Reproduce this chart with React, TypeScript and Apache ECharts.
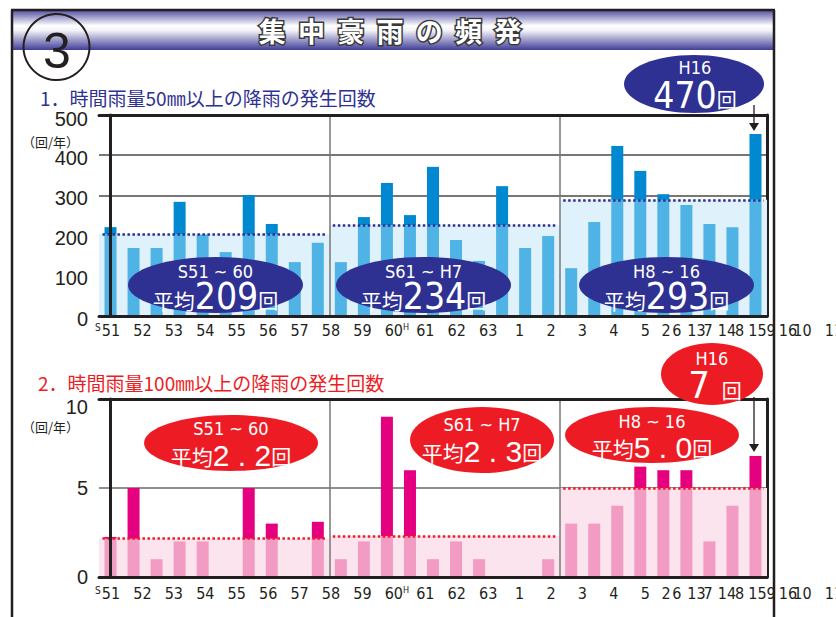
import React, { useEffect, useRef } from 'react';
import * as echarts from 'echarts';

// ---------- data ----------
const barCategories = ['S51', 'S52', 'S53', 'S54', 'S55', 'S56', 'S57', 'S58', 'S59', 'S60',
  'S61', 'S62', 'S63', 'H1', 'H2', 'H3', 'H4', 'H5', 'H6', 'H7',
  'H8', 'H9', 'H10', 'H11', 'H12', 'H13', 'H14', 'H15', 'H16'];
const rain50 = [221, 169, 169, 284, 203, 159, 301, 229, 134, 182,
  134, 246, 331, 251, 371, 189, 137, 323, 169, 199,
  119, 234, 423, 361, 303, 276, 229, 221, 453];
const rain100 = [2.25, 5, 1, 2, 2, 0, 5, 3, 0, 3.1,
  1, 2, 9, 6, 1, 2, 1, 0, 0, 1,
  3, 3, 4, 6.2, 6, 6, 2, 4, 6.8];
const sectionSizes = [10, 10, 9];
const avgLine50 = [204, 226, 289];
const avgLine100 = [2.15, 2.3, 5.0];
const periodLabels = ['S51 ~ 60', 'S61 ~ H7', 'H8 ~ 16'];
const avgText50 = ['209', '234', '293'];
const avgText100 = ['2.2', '2.3', '5.0'];
const peakLabel = 'H16';
const peak50 = '470';
const peak100 = '7';
const tickRowA = ['51', '52', '53', '54', '55', '56', '57', '58', '59', '60', '61', '62', '63',
  '1', '2', '3', '4', '5', '6', '7', '8', '9', '10', '11'];
const tickRowB = ['2', '13', '14', '15', '16'];
const title = '集  中  豪  雨  の  頻  発';
const subtitle1 = '1．時間雨量50㎜以上の降雨の発生回数';
const subtitle2 = '2．時間雨量100㎜以上の降雨の発生回数';
const unitLabel = '（回/年）';

// ---------- styles ----------
const NARROW = '"Liberation Sans Narrow", "DejaVu Sans Condensed", "Liberation Sans", sans-serif';
const SANS = '"Liberation Sans", Arial, sans-serif';
const CJK = '"Noto Sans CJK JP", "Noto Sans", sans-serif';
const INK = '#231f20';
const NAVY = '#2e3192';
const RED = '#ed1c24';

const bounds: number[][] = [];
{
  let acc = -0.5;
  sectionSizes.forEach((n) => { bounds.push([acc, acc + n]); acc += n; });
}
const sectionOf = (i: number) => {
  let acc = 0;
  for (let s = 0; s < sectionSizes.length; s++) { acc += sectionSizes[s]; if (i < acc) return s; }
  return sectionSizes.length - 1;
};

function panel(p: any) {
  const g = p.gridBase;
  const xa = p.xBase;
  const ya = p.yBase;
  const light = p.values.map((v: number, i: number) => Math.min(v, p.avg[sectionOf(i)]));
  const dark = p.values.map((v: number, i: number) => Math.max(0, +(v - p.avg[sectionOf(i)]).toFixed(3)));
  const xAxes = [
    {
      gridIndex: g, type: 'category', data: barCategories, position: 'bottom', boundaryGap: true, z: 10,
      axisLine: { show: true, lineStyle: { color: INK, width: 3 } },
      axisTick: { show: false }, axisLabel: { show: false }, splitLine: { show: false },
    },
    {
      gridIndex: g, type: 'value', position: 'top', min: -0.5, max: barCategories.length - 0.5, z: 10,
      axisLine: { show: true, onZero: false, lineStyle: { color: INK, width: 3 } },
      axisTick: { show: false }, axisLabel: { show: false }, splitLine: { show: false },
    },
  ];
  const yAxes = [
    {
      gridIndex: g, type: 'value', position: 'left', min: 0, max: p.max, interval: p.interval, z: 10,
      axisLine: { show: true, lineStyle: { color: INK, width: 3 } },
      axisTick: { show: false }, splitLine: { show: false },
      axisLabel: {
        fontSize: 20, fontFamily: SANS, color: INK, margin: 11,
        formatter: (v: number) => (v === p.max ? '{t|' + v + '}' : '{n|' + v + '}'),
        rich: {
          n: { fontSize: 20, fontFamily: SANS, color: INK, padding: p.labelPad },
          t: { fontSize: 20, fontFamily: SANS, color: INK, padding: p.topPad },
        },
      },
    },
    {
      gridIndex: g, type: 'value', position: 'right', min: 0, max: p.max, interval: p.interval, z: 0,
      axisLine: { show: true, lineStyle: { color: INK, width: 3 } },
      axisTick: { show: false }, axisLabel: { show: false },
      splitLine: { show: true, lineStyle: { color: p.gridColor, width: 1.5 } },
    },
  ];
  const series = [
    {
      type: 'line', xAxisIndex: xa + 1, yAxisIndex: ya, data: [], z: 1, silent: true,
      markArea: {
        silent: true,
        data: bounds.map((b, s) => [
          { xAxis: b[0], yAxis: 0, itemStyle: { color: p.areaColor } },
          { xAxis: b[1], yAxis: p.avg[s] },
        ]),
      },
    },
    {
      type: 'bar', xAxisIndex: xa, yAxisIndex: ya, stack: 'v' + g, data: light, barWidth: 12, z: 2,
      itemStyle: { color: p.lightColor },
    },
    {
      type: 'bar', xAxisIndex: xa, yAxisIndex: ya, stack: 'v' + g, data: dark, barWidth: 12, z: 2,
      itemStyle: { color: p.darkColor },
    },
    {
      type: 'line', xAxisIndex: xa + 1, yAxisIndex: ya, data: [], z: 5, silent: true,
      markLine: {
        silent: true, symbol: ['none', 'none'], label: { show: false },
        data: [
          ...bounds.slice(1).map((b) => ({ xAxis: b[0], lineStyle: { color: '#777', width: 1.5, type: 'solid' } })),
          ...bounds.map((b, s) => [
            { coord: [b[0] + 0.15, p.avg[s]], lineStyle: { color: p.lineColor, width: 2.5, type: [2.5, 2.5] } },
            { coord: [b[1] - 0.15, p.avg[s]] },
          ]),
        ],
      },
    },
  ];
  return { xAxes, yAxes, series };
}

const tickRich = {
  n: { fontSize: 16, fontFamily: NARROW, color: INK },
  s: { fontSize: 10, fontFamily: NARROW, color: INK, verticalAlign: 'top', width: 8 },
  e: { fontSize: 10, width: 8 },
  h: { fontSize: 9, fontFamily: NARROW, color: INK, verticalAlign: 'top', width: 6 },
  f: { fontSize: 9, width: 6 },
};
const tickFormatter = (v: string, idx: number) => {
  if (idx === 0) return '{s|S}{n|' + v + '}{e| }';
  if (v === '60') return '{f| }{n|' + v + '}{h|H}';
  return '{n|' + v + '}';
};
const tickFormatterB = (v: string) => '{n|' + v + '}';

function tickAxis(gridIndex: number, data: string[], margin: number, fmt: any) {
  return {
    gridIndex, type: 'category', data, position: 'bottom', boundaryGap: true,
    axisLine: { show: false }, axisTick: { show: false }, splitLine: { show: false },
    axisLabel: { interval: 0, hideOverlap: false, margin, formatter: fmt, rich: tickRich },
  };
}

function bubble(cx: number, cy: number, rx: number, ry: number, fill: string) {
  return { type: 'ellipse', z: 50, shape: { cx, cy, rx, ry }, style: { fill } };
}
function txt(x: number, y: number, text: string, font: any, rich?: any) {
  return {
    type: 'text', z: 51, x, y,
    style: { text, align: 'center', verticalAlign: 'middle', fill: '#fff', ...font, rich },
  };
}
const avgRich = (big: number, bigFont: string, gap = 0) => ({
  a: { fontSize: 21, fontFamily: CJK, fill: '#fff', verticalAlign: 'bottom', padding: [0, 0, 4, 0] },
  b: { fontSize: big, fontFamily: bigFont, fill: '#fff', verticalAlign: 'bottom' },
  c: { fontSize: 20, fontFamily: CJK, fill: '#fff', verticalAlign: 'bottom', padding: [0, 0, 4, gap] },
});
const spaced = (s: string) => s.split('').join(' ');

function arrow(x: number, y1: number, y2: number) {
  return [
    { type: 'line', z: 52, shape: { x1: x, y1, x2: x, y2: y2 - 6 }, style: { stroke: INK, lineWidth: 1.3 } },
    { type: 'polygon', z: 52, shape: { points: [[x - 5, y2 - 8], [x + 5, y2 - 8], [x, y2]] }, style: { fill: INK } },
  ];
}

export default function App() {
  const ref = useRef<HTMLDivElement>(null);
  useEffect(() => {
    if (!ref.current) return;
    const chart = echarts.init(ref.current, undefined, { renderer: 'svg' });
    const top = panel({
      gridBase: 0, xBase: 0, yBase: 0, values: rain50, avg: avgLine50, max: 500, interval: 100,
      lightColor: '#4fb3e6', darkColor: '#0089d1', areaColor: '#dff1fb', lineColor: NAVY,
      gridColor: '#4a4a4a', labelPad: [5, 0, 0, 0], topPad: [8, 0, 0, 0],
    });
    const bot = panel({
      gridBase: 1, xBase: 2, yBase: 2, values: rain100, avg: avgLine100, max: 10, interval: 5,
      lightColor: '#f29bc3', darkColor: '#e4007f', areaColor: '#fce4ef', lineColor: RED,
      gridColor: '#6a6a6a', labelPad: [0, 0, 0, 0], topPad: [16, 0, 0, 0],
    });
    const rowAw = 31.43;
    const rowBw = 30.5;
    const gb = { outerBoundsMode: 'none', containLabel: false };
    const grids = [
      { ...gb, left: 99, top: 115, width: 668, height: 201 },
      { ...gb, left: 99, top: 399, width: 668, height: 178 },
      { ...gb, left: 111 - rowAw / 2, top: 316, width: rowAw * tickRowA.length, height: 1 },
      { ...gb, left: 666 - rowBw / 2, top: 316, width: rowBw * tickRowB.length, height: 1 },
      { ...gb, left: 111 - rowAw / 2, top: 577, width: rowAw * tickRowA.length, height: 1 },
      { ...gb, left: 666 - rowBw / 2, top: 577, width: rowBw * tickRowB.length, height: 1 },
    ];
    const hiddenY = (gi: number) => ({ gridIndex: gi, type: 'value', show: false });

    const gradient = new echarts.graphic.LinearGradient(0, 0, 0, 1, [
      { offset: 0, color: '#5d5aa8' },
      { offset: 0.38, color: '#ffffff' },
      { offset: 0.5, color: '#f2f2f8' },
      { offset: 1, color: '#403e97' },
    ]);

    const elements: any[] = [
      { type: 'rect', z: 40, shape: { x: 12, y: 11, width: 762, height: 39 }, style: { fill: gradient } },
      { type: 'line', z: 41, shape: { x1: 11, y1: 10, x2: 775, y2: 10 }, style: { stroke: INK, lineWidth: 2.5 } },
      { type: 'line', z: 41, shape: { x1: 12, y1: 10, x2: 12, y2: 617 }, style: { stroke: INK, lineWidth: 2.5 } },
      { type: 'line', z: 41, shape: { x1: 774, y1: 10, x2: 774, y2: 617 }, style: { stroke: INK, lineWidth: 2.5 } },
      { type: 'circle', z: 42, shape: { cx: 56.5, cy: 47, r: 33 }, style: { fill: 'none', stroke: INK, lineWidth: 2 } },
      { type: 'text', z: 43, x: 57, y: 51, style: { text: '3', fontSize: 50, fontFamily: SANS, fill: INK, align: 'center', verticalAlign: 'middle' } },
      { type: 'text', z: 43, x: 390, y: 30, style: { text: title, fontSize: 27, fontWeight: 'bold', fontFamily: CJK, fill: '#fff', stroke: '#3a3a3a', lineWidth: 3, align: 'center', verticalAlign: 'middle' } },
      { type: 'text', z: 43, x: 40, y: 97, style: { text: subtitle1, fontSize: 19, fontFamily: CJK, fill: NAVY, align: 'left', verticalAlign: 'middle' } },
      { type: 'text', z: 43, x: 38, y: 382, style: { text: subtitle2, fontSize: 19, fontFamily: CJK, fill: RED, align: 'left', verticalAlign: 'middle' } },
      { type: 'text', z: 43, x: 22, y: 141, style: { text: unitLabel, fontSize: 13, fontFamily: CJK, fill: INK, align: 'left', verticalAlign: 'middle' } },
      { type: 'text', z: 43, x: 22, y: 426, style: { text: unitLabel, fontSize: 13, fontFamily: CJK, fill: INK, align: 'left', verticalAlign: 'middle' } },
    ];

    const topCx = [215.5, 423.5, 666.5];
    topCx.forEach((cx, i) => {
      elements.push(bubble(cx, 285, 87.5, 28, NAVY));
      elements.push(txt(cx, 271, periodLabels[i], { fontSize: 18, fontFamily: NARROW }));
      elements.push(txt(cx, 296, '{a|平均}{b|' + avgText50[i] + '}{c|回}', {}, avgRich(37, NARROW)));
    });
    elements.push(bubble(694, 84, 70, 29, NAVY));
    elements.push(txt(695, 67, peakLabel, { fontSize: 18, fontFamily: NARROW }));
    elements.push(txt(695, 95, '{b|' + peak50 + '}{c|回}', {}, avgRich(37, NARROW)));
    elements.push(...arrow(754, 105, 131));

    const botB = [[231, 443, 87, 28, 428, 455], [482, 440, 72, 33, 424, 451], [652, 435, 87, 28, 421, 447]];
    botB.forEach((b, i) => {
      elements.push(bubble(b[0], b[1], b[2], b[3], RED));
      elements.push(txt(b[0], b[4], periodLabels[i], { fontSize: 18, fontFamily: NARROW }));
      elements.push(txt(b[0], b[5], '{a|平均}{b|' + spaced(avgText100[i]) + '}{c|回}', {}, avgRich(30, SANS)));
    });
    elements.push(bubble(712, 374, 51, 31, RED));
    elements.push(txt(712, 358, peakLabel, { fontSize: 18, fontFamily: NARROW }));
    elements.push(txt(715, 385, '{b|' + peak100 + '}{c|回}', {}, avgRich(38, NARROW, 12)));
    elements.push(...arrow(754, 397, 452));

    chart.setOption({
      animation: false,
      backgroundColor: '#ffffff',
      grid: grids,
      xAxis: [
        ...top.xAxes, ...bot.xAxes,
        tickAxis(2, tickRowA, 5, tickFormatter),
        tickAxis(3, tickRowB, 5, tickFormatterB),
        tickAxis(4, tickRowA, 7, tickFormatter),
        tickAxis(5, tickRowB, 7, tickFormatterB),
      ],
      yAxis: [...top.yAxes, ...bot.yAxes, hiddenY(2), hiddenY(3), hiddenY(4), hiddenY(5)],
      series: [...top.series, ...bot.series],
      graphic: { elements },
    });
    return () => chart.dispose();
  }, []);
  return <div ref={ref} style={{ position: 'fixed', left: 0, top: 0, width: 836, height: 617 }} />;
}
